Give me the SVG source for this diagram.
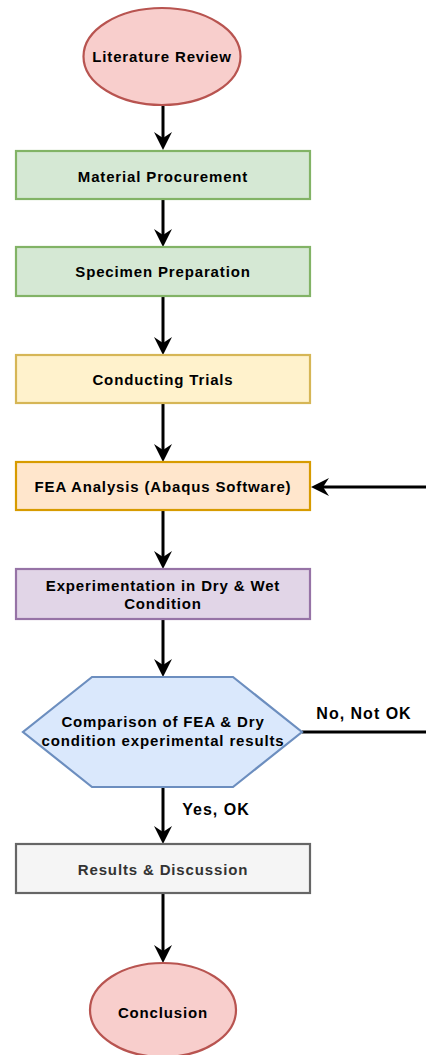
<svg xmlns="http://www.w3.org/2000/svg" width="426" height="1055" viewBox="0 0 426 1055">
<style>
text{font-family:"Liberation Sans",Arial,Helvetica,sans-serif;font-size:15px;font-weight:bold;letter-spacing:0.85px;fill:#000;text-anchor:middle}
text.lbl{font-size:16px;letter-spacing:1px}
.n{stroke-width:2.2}
.c{stroke:#000;stroke-width:3;fill:none}
.red{fill:#f8cecc;stroke:#b85450}
.green{fill:#d5e8d4;stroke:#82b366}
.yellow{fill:#fff2cc;stroke:#d6b656}
.orange{fill:#ffe6cc;stroke:#d79b00}
.purple{fill:#e1d5e7;stroke:#9673a6}
.blue{fill:#dae8fc;stroke:#6c8ebf}
.gray{fill:#f5f5f5;stroke:#666666}
</style>
<defs>
<marker id="ah" viewBox="-7 -10 20 20" markerWidth="20" markerHeight="20" refX="0" refY="0" orient="auto" markerUnits="userSpaceOnUse">
<path d="M12,0 L-6,-9 L0,0 L-6,9 Z" fill="#000"/>
</marker>
</defs>
<g id="connectors">
<line class="c" x1="163" y1="105" x2="163" y2="138" marker-end="url(#ah)"/>
<line class="c" x1="163" y1="199" x2="163" y2="235" marker-end="url(#ah)"/>
<line class="c" x1="163" y1="296" x2="163" y2="343" marker-end="url(#ah)"/>
<line class="c" x1="163" y1="403" x2="163" y2="450" marker-end="url(#ah)"/>
<line class="c" x1="163" y1="510" x2="163" y2="557" marker-end="url(#ah)"/>
<line class="c" x1="163" y1="619" x2="163" y2="665" marker-end="url(#ah)"/>
<line class="c" x1="163" y1="787" x2="163" y2="832" marker-end="url(#ah)"/>
<line class="c" x1="163" y1="893" x2="163" y2="951" marker-end="url(#ah)"/>
<line class="c" x1="426" y1="487" x2="323" y2="487" marker-end="url(#ah)"/>
<line class="c" x1="302" y1="732" x2="426" y2="732"/>
<text class="lbl" x="364" y="719">No, Not OK</text>
<text class="lbl" x="216" y="815">Yes, OK</text>
</g>
<g id="literature-review">
<ellipse class="n red" cx="162" cy="56.5" rx="78.5" ry="48.5"/>
<text x="162" y="62">Literature Review</text>
</g>
<g id="material-procurement">
<rect class="n green" x="16" y="151" width="294" height="48"/>
<text x="163" y="182">Material Procurement</text>
</g>
<g id="specimen-preparation">
<rect class="n green" x="16" y="247" width="294" height="49"/>
<text x="163" y="277">Specimen Preparation</text>
</g>
<g id="conducting-trials">
<rect class="n yellow" x="16" y="355" width="294" height="48"/>
<text x="163" y="385">Conducting Trials</text>
</g>
<g id="fea-analysis">
<rect class="n orange" x="16" y="462" width="294" height="48"/>
<text x="163" y="492">FEA Analysis (Abaqus Software)</text>
</g>
<g id="experimentation">
<rect class="n purple" x="16" y="569" width="294" height="50"/>
<text x="163" y="591">Experimentation in Dry &amp; Wet</text>
<text x="163" y="609">Condition</text>
</g>
<g id="comparison">
<polygon class="n blue" points="92,677 233,677 302,732 233,787 92,787 23,732"/>
<text x="163" y="727">Comparison of FEA &amp; Dry</text>
<text x="163" y="746">condition experimental results</text>
</g>
<g id="results-discussion">
<rect class="n gray" x="16" y="844" width="294" height="49"/>
<text x="163" y="875" style="fill:#333333">Results &amp; Discussion</text>
</g>
<g id="conclusion">
<ellipse class="n red" cx="163" cy="1010" rx="73" ry="47"/>
<text x="163" y="1018">Conclusion</text>
</g>
</svg>
